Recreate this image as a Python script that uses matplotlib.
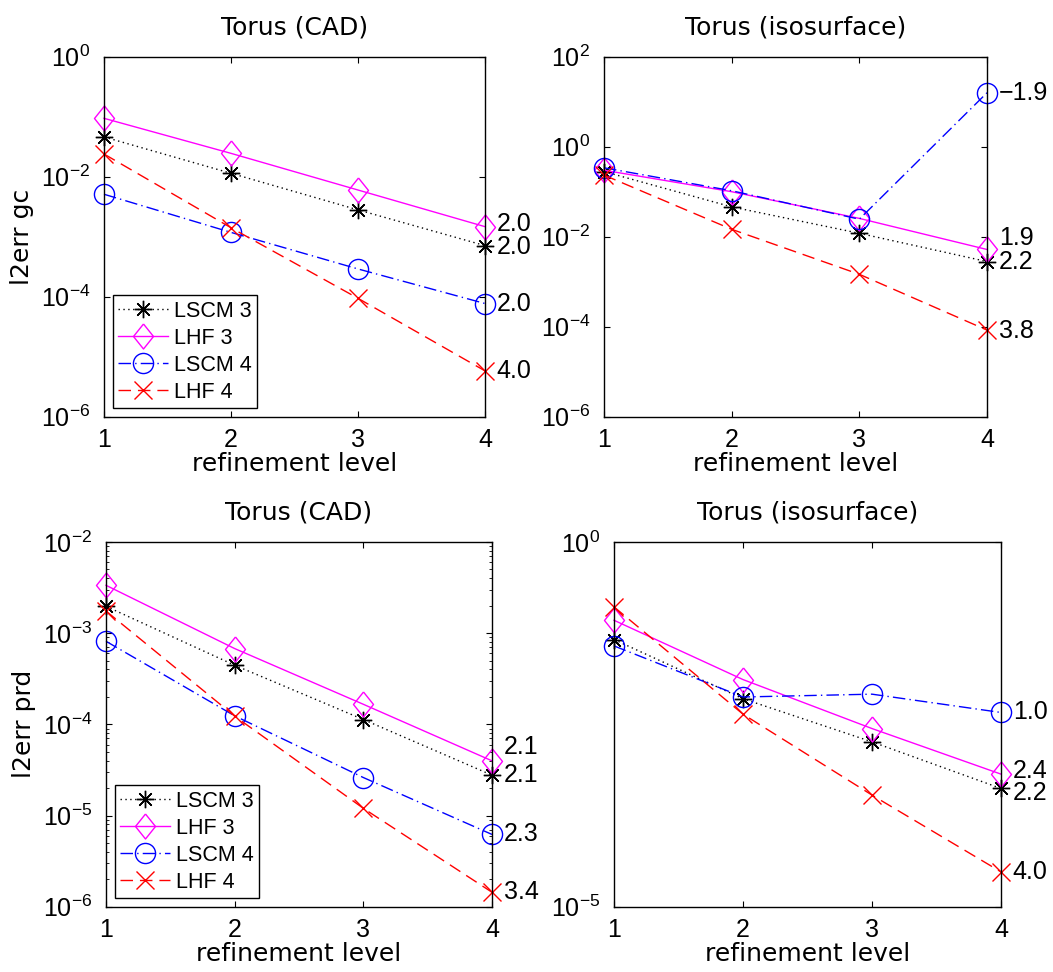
import matplotlib
matplotlib.use("Agg")
import matplotlib.pyplot as plt
from matplotlib.ticker import LogLocator, NullLocator, LogFormatterSciNotation

plt.rcParams['font.family'] = ['Liberation Sans', 'DejaVu Sans']
plt.rcParams['mathtext.fontset'] = 'custom'
plt.rcParams['mathtext.rm'] = 'Liberation Sans'
plt.rcParams['mathtext.it'] = 'Liberation Sans:italic'
plt.rcParams['mathtext.bf'] = 'Liberation Sans:bold'

levels = [1, 2, 3, 4]
series_names = ["LSCM 3", "LHF 3", "LSCM 4", "LHF 4"]

# l2err gc, Torus (CAD)
gc_cad_lscm3 = [0.046, 0.0114, 2.8e-3, 7.1e-4]
gc_cad_lhf3 = [0.094, 0.0245, 6.0e-3, 1.47e-3]
gc_cad_lscm4 = [5.1e-3, 1.18e-3, 2.9e-4, 7.7e-5]
gc_cad_lhf4 = [0.0239, 1.41e-3, 9.4e-5, 5.8e-6]
gc_cad_rates = ["2.0", "2.0", "2.0", "4.0"]

# l2err gc, Torus (isosurface)
gc_iso_lscm3 = [0.28, 0.046, 0.0119, 2.8e-3]
gc_iso_lhf3 = [0.30, 0.10, 0.0255, 5.2e-3]
gc_iso_lscm4 = [0.34, 0.105, 0.0245, 15.8]
gc_iso_lhf4 = [0.234, 0.0146, 1.46e-3, 8.4e-5]
gc_iso_rates = ["2.2", "1.9", "\u22121.9", "3.8"]

# l2err prd, Torus (CAD)
prd_cad_lscm3 = [1.97e-3, 4.45e-4, 1.13e-4, 2.77e-5]
prd_cad_lhf3 = [3.35e-3, 6.78e-4, 1.66e-4, 3.98e-5]
prd_cad_lscm4 = [8.15e-4, 1.24e-4, 2.61e-5, 6.2e-6]
prd_cad_lhf4 = [1.75e-3, 1.23e-4, 1.2e-5, 1.44e-6]
prd_cad_rates = ["2.1", "2.1", "2.3", "3.4"]

# l2err prd, Torus (isosurface)
prd_iso_lscm3 = [0.046, 7.1e-3, 1.82e-3, 4.18e-4]
prd_iso_lhf3 = [0.0845, 0.013, 2.77e-3, 6.57e-4]
prd_iso_lscm4 = [0.0376, 7.5e-3, 8.2e-3, 4.6e-3]
prd_iso_lhf4 = [0.129, 4.36e-3, 3.39e-4, 3.0e-5]
prd_iso_rates = ["2.2", "2.4", "1.0", "4.0"]

W, H = 1053, 972
LABEL_FONT = "DejaVu Sans"
diamond = [(0, 1), (0.8, 0), (0, -1), (-0.8, 0), (0, 1)]
styles = [
    dict(color="k", marker=(8, 2, 0), ms=12.5, dashes=(1, 2.5)),
    dict(color="#ff00ff", marker=diamond, ms=18, ls="-"),
    dict(color="#0000ff", marker="o", ms=14.5, dashes=(9, 3, 1, 3)),
    dict(color="#ff0000", marker="x", ms=13, dashes=(9, 5)),
]


def px_rect(left, top, right, bottom):
    return [left / W, 1 - bottom / H, (right - left) / W, (bottom - top) / H]


def draw_panel(fig, rect, title, data, rates, nudges, ylim, yticks,
               ylabel=None, legend=False, minor=False):
    ax = fig.add_axes(rect)
    for name, vals, st in zip(series_names, data, styles):
        st = dict(st)
        ms = st.pop("ms")
        ax.plot(levels, vals, label=name, markersize=ms, mfc="none",
                mew=1.0, lw=1.0, clip_on=False, **st)
    for vals, txt, dy in zip(data, rates, nudges):
        ax.annotate(txt, (levels[-1], vals[-1]), xytext=(8.5, dy),
                    textcoords="offset points", ha="left", va="center",
                    fontsize=18, annotation_clip=False)
    ax.set_yscale("log")
    ax.set_xlim(1, 4)
    ax.set_ylim(*ylim)
    ax.set_xticks(levels)
    ax.set_yticks(yticks)
    ax.yaxis.set_major_formatter(LogFormatterSciNotation())
    if minor:
        ax.yaxis.set_minor_locator(LogLocator(subs=range(2, 10)))
    else:
        ax.yaxis.set_minor_locator(NullLocator())
    ax.tick_params(direction="in", top=True, right=True, length=4,
                   width=0.8, labelsize=18)
    ax.tick_params(axis="x", pad=8)
    ax.tick_params(axis="y", pad=10)
    ax.tick_params(which="minor", direction="in", right=True, length=2)
    for sp in ax.spines.values():
        sp.set_linewidth(1.0)
    ax.set_title(title, fontsize=18, pad=16, fontfamily=LABEL_FONT)
    ax.set_xlabel("refinement level", fontsize=18, labelpad=0,
                  fontfamily=LABEL_FONT)
    if ylabel:
        ax.set_ylabel(ylabel, fontsize=18, labelpad=5, fontfamily=LABEL_FONT)
    if legend:
        leg = ax.legend(loc="lower left", fontsize=15.5, handlelength=2.3,
                        handletextpad=0.3, labelspacing=0.28, borderpad=0.25,
                        borderaxespad=0.4, fancybox=False, framealpha=1)
        leg.get_frame().set_edgecolor("k")
        leg.get_frame().set_linewidth(1.0)
    return ax


if __name__ == "__main__":
    fig = plt.figure(figsize=(W / 100, H / 100), dpi=100)

    draw_panel(fig, px_rect(104, 56.7, 485, 416.7), "Torus (CAD)",
               [gc_cad_lscm3, gc_cad_lhf3, gc_cad_lscm4, gc_cad_lhf4],
               gc_cad_rates, [-1, 2, 0, 0], (1e-6, 1e0),
               [1e-6, 1e-4, 1e-2, 1e0], ylabel="l2err gc", legend=True)
    draw_panel(fig, px_rect(604, 56.7, 987, 416.7), "Torus (isosurface)",
               [gc_iso_lscm3, gc_iso_lhf3, gc_iso_lscm4, gc_iso_lhf4],
               gc_iso_rates, [0, 8.5, 0, -1], (1e-6, 1e2),
               [1e-6, 1e-4, 1e-2, 1e0, 1e2])
    draw_panel(fig, px_rect(106, 542, 492, 906.7), "Torus (CAD)",
               [prd_cad_lscm3, prd_cad_lhf3, prd_cad_lscm4, prd_cad_lhf4],
               prd_cad_rates, [0, 10, 0, 0], (1e-6, 1e-2),
               [1e-6, 1e-5, 1e-4, 1e-3, 1e-2], ylabel="l2err prd",
               legend=True, minor=True)
    draw_panel(fig, px_rect(614, 542, 1001, 906.7), "Torus (isosurface)",
               [prd_iso_lscm3, prd_iso_lhf3, prd_iso_lscm4, prd_iso_lhf4],
               prd_iso_rates, [-3, 2, 0, 0], (1e-5, 1e0),
               [1e-5, 1e0])

    fig.savefig("out.png", dpi=100)
